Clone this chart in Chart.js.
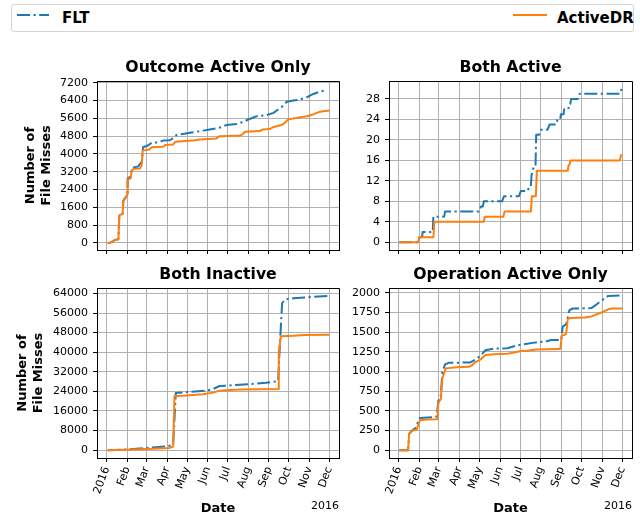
<!DOCTYPE html>
<html><head><meta charset="utf-8">
<script src="https://cdn.jsdelivr.net/npm/chart.js@4/dist/chart.umd.min.js"></script>
<style>
html,body{margin:0;padding:0;background:#fff;width:640px;height:519px;overflow:hidden;font-family:"DejaVu Sans",sans-serif}
canvas{position:absolute}
#legend{position:absolute;left:11px;top:4px;width:623px;height:28px;box-sizing:border-box;border:1px solid #d3d3d3;border-radius:3px;background:#fff}
.lab{position:absolute;font-weight:bold;font-size:15px;top:3.5px;line-height:18px;color:#000;font-family:"DejaVu Sans",sans-serif}
</style></head><body>
<div id="legend">
 <svg style="position:absolute;left:5px;top:7px" width="32" height="6"><line x1="0" y1="3" x2="32" y2="3" stroke="#1f77b4" stroke-width="2" stroke-dasharray="13 3.5 2.2 3.5"/></svg>
 <span class="lab" style="left:50px">FLT</span>
 <svg style="position:absolute;left:501px;top:7px" width="34" height="6"><line x1="0" y1="3" x2="34" y2="3" stroke="#ff7f0e" stroke-width="2"/></svg>
 <span class="lab" style="left:545px">ActiveDR</span>
</div>
<canvas id="cA" width="345" height="207" style="left:0px;top:55px;width:345px;height:207px"></canvas>
<canvas id="cB" width="295" height="207" style="left:345px;top:55px;width:295px;height:207px"></canvas>
<canvas id="cC" width="345" height="257" style="left:0px;top:262px;width:345px;height:257px"></canvas>
<canvas id="cD" width="295" height="257" style="left:345px;top:262px;width:295px;height:257px"></canvas>
<script>
// ---- data ----
const monthDays = [0,31,60,91,121,152,182,213,244,274,305,335];
const monthLabels = ['2016','Feb','Mar','Apr','May','Jun','Jul','Aug','Sep','Oct','Nov','Dec'];
const seriesNames = ['FLT','ActiveDR'];
const panelTitles = ['Outcome Active Only','Both Active','Both Inactive','Operation Active Only'];

const yTicksOutcome = [0,800,1600,2400,3200,4000,4800,5600,6400,7200];
const yTicksBothActive = [0,4,8,12,16,20,24,28];
const yTicksBothInactive = [0,8000,16000,24000,32000,40000,48000,56000,64000];
const yTicksOperation = [0,250,500,750,1000,1250,1500,1750,2000];

// [day of 2016, cumulative file misses]
const outcomeFLT = [[1.5,0],[5,10],[10,80],[12.5,135],[17.6,165],[19,1250],[24,1300],[25,1900],[28.6,2050],[31.1,2250],[31.6,2900],[36,2980],[37.6,3300],[41,3400],[47,3430],[52.7,3650],[54.7,4300],[62,4380],[67.7,4500],[75,4520],[80,4550],[85,4600],[95,4620],[100,4700],[105,4850],[115,4900],[125,4950],[135,5000],[145,5050],[155,5100],[165,5150],[172,5200],[180,5300],[196,5350],[206,5450],[213,5550],[226,5700],[241,5750],[251,5850],[258,6000],[263,6100],[271,6350],[281,6400],[291,6450],[301,6550],[311,6700],[321,6800],[328,6850]];
const outcomeADR = [[1.5,0],[5,10],[10,80],[12.5,135],[17.6,165],[19,1250],[24,1300],[25,1900],[28.6,2050],[31.1,2200],[31.6,2850],[36,2900],[37.6,3250],[41,3330],[50,3350],[52.7,3500],[54.2,4150],[64.2,4200],[67.7,4300],[85,4320],[88,4400],[100,4420],[103,4550],[130,4600],[140,4650],[165,4700],[170,4800],[200,4830],[204,4870],[208,5000],[230,5030],[235,5100],[245,5120],[250,5200],[263,5300],[268,5400],[273,5550],[281,5600],[291,5650],[301,5700],[308,5750],[316,5850],[321,5900],[335,5950]];

const bothActiveFLT = [[0.5,0],[29,0],[30.7,1],[35,1],[35.8,2],[50.9,2],[51.9,5],[68,5],[69.5,6],[120,6],[123.4,7],[126,7],[127.5,8],[155,8],[157.7,9],[180,9],[183,10],[193,10],[196,11],[198,11],[199,13],[200.5,14],[203,15],[205,15],[206,21],[210.6,21],[213,22],[223,22],[226,23],[236,23],[238,24],[242,24],[243,25],[247,25],[248,26],[254,26],[255.9,27],[257,27],[258.4,28],[268.5,28],[271,29],[331.5,29],[334,30]];
const bothActiveADR = [[0.5,0],[29,0],[30.7,1],[52,1],[53.4,4],[127.5,4],[129,5],[156.7,5],[158.7,6],[198,6],[199.5,9],[205.5,9],[207,14],[253.4,14],[254.4,15],[255.5,15],[257.4,16],[331.5,16],[333,17],[335,17]];

const bothInactiveFLT = [[1.5,0],[30,300],[60,900],[90,1500],[97,2000],[100,2300],[104,23300],[120,23700],[150,24300],[160,25000],[170,26200],[190,26500],[215,27000],[240,27500],[258,28200],[261,45000],[264,60000],[268,61500],[281,62000],[306,62500],[335,63000]];
const bothInactiveADR = [[1.5,0],[30,200],[60,500],[95,900],[100,1500],[102,22000],[120,22300],[145,22800],[160,23500],[170,24300],[180,24500],[200,24800],[258,25000],[259,40000],[262,46500],[281,46700],[298,47000],[335,47100]];

const operationFLT = [[0.5,0],[14,0],[15.6,210],[21,260],[24.2,270],[31.7,410],[54.4,420],[56.9,430],[59.4,630],[63,700],[65.5,1000],[69.5,1090],[74.6,1110],[107.3,1115],[114.9,1150],[122.4,1200],[130,1270],[142.6,1290],[162.7,1295],[172.8,1320],[182.9,1340],[205.5,1370],[220,1380],[228.2,1400],[243.3,1400],[245.8,1570],[250.9,1600],[255.9,1780],[260.9,1800],[288.7,1805],[296.2,1850],[303.8,1900],[313.9,1960],[335,1965]];
const operationADR = [[0.5,0],[14,0],[15.6,210],[21,250],[26.7,260],[31.7,380],[41.8,390],[57.9,395],[59.4,600],[63,650],[65.5,920],[70.5,1040],[87,1055],[104.8,1060],[109.8,1080],[114.9,1120],[122.4,1150],[130,1210],[142.6,1220],[162.7,1225],[172.8,1240],[182.9,1260],[193,1265],[205.5,1280],[240.8,1285],[242.3,1290],[244.3,1460],[248.4,1465],[250.9,1480],[253.4,1670],[258.4,1680],[278.6,1685],[288.7,1700],[303.8,1750],[313.9,1790],[318.9,1800],[335,1800]];

// ---- rendering ----
const FONT = '"DejaVu Sans", sans-serif';
const BLUE = '#1f77b4', ORANGE = '#ff7f0e';
const X_MIN = -14.6, X_MAX = 349.6;

const framePlugin = {
  id: 'frame',
  afterDatasetsDraw(chart) {
    const {ctx, chartArea: a} = chart;
    const al = p => Math.round(p - 0.5) + 0.5;
    ctx.save();
    ctx.strokeStyle = '#000';
    ctx.lineWidth = 1;
    ctx.beginPath();
    ctx.rect(al(a.left), al(a.top), al(a.right) - al(a.left), al(a.bottom) - al(a.top));
    ctx.stroke();
    ctx.restore();
  }
};
const offsetPlugin = {
  id: 'offsetText',
  afterDraw(chart) {
    const {ctx, chartArea: a} = chart;
    ctx.save();
    ctx.font = '11px ' + FONT;
    ctx.fillStyle = '#000';
    ctx.textAlign = 'right';
    ctx.textBaseline = 'middle';
    ctx.fillText('2016', a.right, 244);
    ctx.restore();
  }
};

function dataset(label, pts, color, dash, order) {
  return {
    label, order,
    data: pts.map(p => ({x: p[0], y: p[1]})),
    borderColor: color, backgroundColor: color,
    borderWidth: 2, borderDash: dash,
    borderJoinStyle: 'round',
    pointRadius: 0, fill: false, tension: 0
  };
}

function panel(id, cfg) {
  const scales = {
    x: {
      type: 'linear', min: X_MIN, max: X_MAX,
      afterBuildTicks: s => { s.ticks = monthDays.map(v => ({value: v})); },
      afterFit: s => { s.height = cfg.xHeight; s.paddingLeft = 0; s.paddingRight = 0; },
      ticks: {
        display: cfg.bottom, autoSkip: false, minRotation: 70, maxRotation: 70,
        callback: v => monthLabels[monthDays.indexOf(v)],
        font: {family: FONT, size: 11}, color: '#000', padding: 3
      },
      grid: {color: '#b0b0b0', lineWidth: 1, tickColor: '#000', tickLength: 4, tickWidth: 1},
      border: {display: true, color: '#000', width: 1},
      title: {display: cfg.bottom, text: 'Date', color: '#000',
              font: {family: FONT, size: 13, weight: 'bold'}, padding: {top: 0, bottom: 3}}
    },
    y: {
      type: 'linear', min: cfg.yMin, max: cfg.yMax,
      afterBuildTicks: s => { s.ticks = cfg.yTicks.map(v => ({value: v})); },
      afterFit: s => { s.width = cfg.yWidth; s.paddingTop = 0; s.paddingBottom = 0; },
      ticks: {
        autoSkip: false, callback: v => String(v),
        font: {family: FONT, size: 11}, color: '#000', padding: 5
      },
      grid: {color: '#b0b0b0', lineWidth: 1, tickColor: '#000', tickLength: 4, tickWidth: 1},
      border: {display: true, color: '#000', width: 1},
      title: {display: !!cfg.yTitlePad, text: ['Number of', 'File Misses'], color: '#000',
              font: {family: FONT, size: 13, weight: 'bold'}, padding: {top: cfg.yTitlePad || 0, bottom: 0}}
    }
  };
  return new Chart(document.getElementById(id), {
    type: 'line',
    data: {datasets: [
      dataset(seriesNames[0], cfg.flt, BLUE, [13, 3.5, 2.2, 3.5], 1),
      dataset(seriesNames[1], cfg.adr, ORANGE, [], 0)
    ]},
    options: {
      responsive: false, animation: false, events: [],
      layout: {padding: {left: 0, right: cfg.padRight, top: 0, bottom: 0}},
      plugins: {
        legend: {display: false}, tooltip: {enabled: false},
        title: {display: true, text: cfg.title, color: '#000', fullSize: false,
                font: {family: FONT, size: 15.7, weight: 'bold'}, padding: {top: 3.6, bottom: 3.6}}
      },
      scales
    },
    plugins: cfg.bottom ? [framePlugin, offsetPlugin] : [framePlugin]
  });
}

panel('cA', {title: panelTitles[0], flt: outcomeFLT, adr: outcomeADR, yTicks: yTicksOutcome,
  yMin: -320, yMax: 7280, yWidth: 97, padRight: 6, xHeight: 12, bottom: false, yTitlePad: 23});
panel('cB', {title: panelTitles[1], flt: bothActiveFLT, adr: bothActiveADR, yTicks: yTicksBothActive,
  yMin: -1.5, yMax: 31.5, yWidth: 44, padRight: 8, xHeight: 12, bottom: false});
panel('cC', {title: panelTitles[2], flt: bothInactiveFLT, adr: bothInactiveADR, yTicks: yTicksBothInactive,
  yMin: -3200, yMax: 66200, yWidth: 97, padRight: 6, xHeight: 61, bottom: true, yTitlePad: 15});
panel('cD', {title: panelTitles[3], flt: operationFLT, adr: operationADR, yTicks: yTicksOperation,
  yMin: -98, yMax: 2060, yWidth: 44, padRight: 8, xHeight: 61, bottom: true});
</script>
</body></html>
